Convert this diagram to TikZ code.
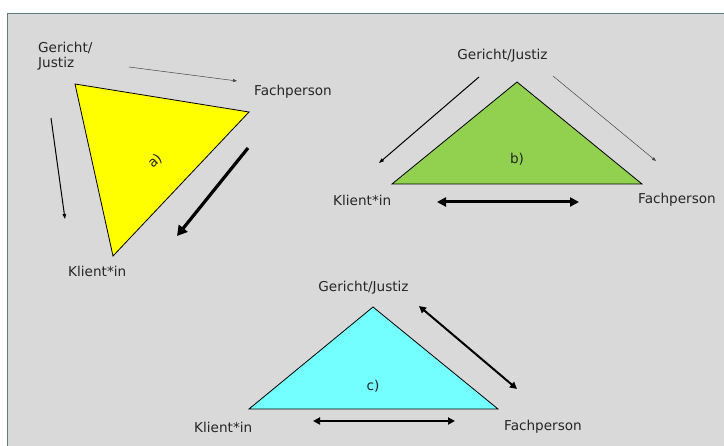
\documentclass[tikz,border=0pt]{standalone}
\usepackage{fontspec}
\setmainfont{DejaVu Sans}
\usetikzlibrary{arrows.meta}
\definecolor{bggray}{HTML}{D9D9D9}
\definecolor{frame}{RGB}{96,122,126}
\definecolor{tyellow}{HTML}{FFFF00}
\definecolor{tgreen}{HTML}{92D050}
\definecolor{tcyan}{HTML}{73FFFF}
\definecolor{thingray}{RGB}{70,70,70}
\begin{document}
\begin{tikzpicture}[x=1pt,y=-1pt,
  lbl/.style={font=\fontsize{13.6}{15}\selectfont, text=black!85, inner sep=0pt},
  tri/.style={draw=black, line width=0.8pt, line join=miter},
  thinarr/.style={draw=thingray, line width=0.5pt, -{Triangle[length=4pt,width=3pt]}},
  medarr/.style={draw=black, line width=1pt, -{Triangle[length=5pt,width=3.5pt]}},
  bigarr/.style={draw=black, line width=3.2pt, -{Triangle[length=10pt,width=11pt]}},
  dblarr/.style={draw=black, line width=3pt, {Triangle[length=9pt,width=9pt]}-{Triangle[length=9pt,width=9pt]}},
  dblmed/.style={draw=black, line width=2pt, {Triangle[length=7pt,width=7pt]}-{Triangle[length=7pt,width=7pt]}}]
\useasboundingbox (0,0) rectangle (724,446);
\fill[white] (0,0) rectangle (724,446);
\filldraw[fill=bggray, draw=frame, line width=1.5pt] (7.5,13.5) rectangle (730,452);

% ---------- panel a ----------
\coordinate (aG) at (75,84);
\coordinate (aF) at (249,112);
\coordinate (aK) at (113,256);
\filldraw[tri, fill=tyellow] (aG) -- (aF) -- (aK) -- cycle;
\node[lbl, rotate=42] (alab) at (155,161) {a)};
\node[lbl, anchor=west, align=left] (aGt) at (38,56) {Gericht/\\Justiz};
\node[lbl, anchor=west] (aFt) at (254,92) {Fachperson};
\node[lbl, anchor=west] (aKt) at (68,271) {Klient*in};
\coordinate (a1s) at (129,67); \coordinate (a1e) at (237,81);
\coordinate (a2s) at (51,118); \coordinate (a2e) at (65,219);
\coordinate (a3s) at (248,148); \coordinate (a3e) at (177,236);
\draw[thinarr] (a1s) -- (a1e);
\draw[medarr] (a2s) -- (a2e);
\draw[bigarr] (a3s) -- (a3e);

% ---------- panel b ----------
\coordinate (bG) at (517,82);
\coordinate (bK) at (392,184);
\coordinate (bF) at (642,184);
\filldraw[tri, fill=tgreen] (bG) -- (bF) -- (bK) -- cycle;
\node[lbl] (blab) at (517,159) {b)};
\node[lbl] (bGt) at (502.5,56) {Gericht/Justiz};
\node[lbl, anchor=west] (bKt) at (333,200) {Klient*in};
\node[lbl, anchor=west] (bFt) at (638,200) {Fachperson};
\coordinate (b1s) at (479,77); \coordinate (b1e) at (379,163);
\coordinate (b2s) at (553,76); \coordinate (b2e) at (656,161);
\coordinate (b3s) at (437,202); \coordinate (b3e) at (579,202);
\draw[medarr] (b1s) -- (b1e);
\draw[thinarr] (b2s) -- (b2e);
\draw[dblarr] (b3s) -- (b3e);

% ---------- panel c ----------
\coordinate (cG) at (373,307);
\coordinate (cK) at (249,409);
\coordinate (cF) at (498,409);
\filldraw[tri, fill=tcyan] (cG) -- (cF) -- (cK) -- cycle;
\node[lbl] (clab) at (373,386) {c)};
\node[lbl] (cGt) at (363.5,288) {Gericht/Justiz};
\node[lbl, anchor=west] (cKt) at (194,427) {Klient*in};
\node[lbl, anchor=west] (cFt) at (504,427) {Fachperson};
\coordinate (c1s) at (419,306); \coordinate (c1e) at (517,389);
\coordinate (c2s) at (313,421); \coordinate (c2e) at (455,421);
\draw[dblmed] (c1s) -- (c1e);
\draw[dblmed] (c2s) -- (c2e);
\end{tikzpicture}
\end{document}
